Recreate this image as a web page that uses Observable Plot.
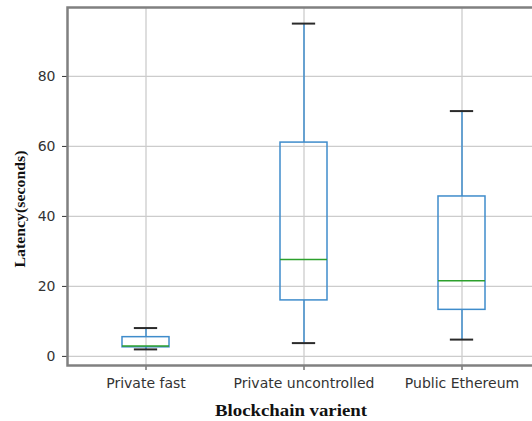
<!DOCTYPE html>
<html>
<head>
<meta charset="utf-8">
<script src="https://cdn.jsdelivr.net/npm/d3@7"></script>
<script src="https://cdn.jsdelivr.net/npm/@observablehq/plot@0.6"></script>
<style>
html, body { margin: 0; padding: 0; background: #fff; overflow: hidden; }
#chart { width: 532px; height: 421px; overflow: hidden; }
</style>
</head>
<body>
<div id="chart"></div>
<script>
// Box-plot summary values (seconds)
const categories = ["Private fast", "Private uncontrolled", "Public Ethereum"];
const whiskerLow  = [2.0, 3.8, 4.8];
const q1Values    = [2.6, 16.0, 13.3];
const medians     = [3.0, 27.7, 21.6];
const q3Values    = [5.5, 61.1, 45.7];
const whiskerHigh = [8.1, 95.1, 70.1];
const yTicks = [0, 20, 40, 60, 80];
const xTitle = "Blockchain varient";
const yTitle = "Latency(seconds)";

const data = categories.map((cat, i) => ({
  cat, lo: whiskerLow[i], q1: q1Values[i], med: medians[i], q3: q3Values[i], hi: whiskerHigh[i]
}));

const BLUE = "#3f8ccb";
const GREEN = "#2ca02c";
const CAP = "#2a2a2a";
const GRID = "#cccccc";
const FONT = "DejaVu Sans, sans-serif";
const BAND_PAD = 0.7;
const capInset = (474 / 3) * (1 - BAND_PAD) / 4;

const svg = Plot.plot({
  width: 545,
  height: 421,
  marginLeft: 67,
  marginRight: 4,
  marginTop: 7,
  marginBottom: 56,
  style: { maxWidth: "none", background: "#fff", color: "#333", fontFamily: FONT, fontSize: "14px", overflow: "hidden" },
  x: { type: "band", domain: categories, range: [67, 541], paddingInner: BAND_PAD, paddingOuter: BAND_PAD / 2, label: null },
  y: { domain: [-2.6, 99.7], label: null },
  marks: [
    Plot.gridY(yTicks, { stroke: GRID, strokeOpacity: 1, strokeWidth: 1.3 }),
    Plot.gridX(categories, { stroke: GRID, strokeOpacity: 1, strokeWidth: 1.3 }),
    Plot.ruleX(data, { x: "cat", y1: "q3", y2: "hi", stroke: BLUE, strokeWidth: 1.5 }),
    Plot.ruleX(data, { x: "cat", y1: "lo", y2: "q1", stroke: BLUE, strokeWidth: 1.5 }),
    Plot.barY(data, { x: "cat", y1: "q1", y2: "q3", fill: "none", stroke: BLUE, strokeWidth: 1.5 }),
    Plot.tickY(data, { x: "cat", y: "hi", stroke: CAP, strokeWidth: 2, insetLeft: capInset, insetRight: capInset }),
    Plot.tickY(data, { x: "cat", y: "lo", stroke: CAP, strokeWidth: 2, insetLeft: capInset, insetRight: capInset }),
    Plot.tickY(data, { x: "cat", y: "med", stroke: GREEN, strokeWidth: 1.5 }),
    Plot.axisY({ ticks: yTicks, tickSize: 5, tickPadding: 7, label: null, fontSize: 14 }),
    Plot.axisX({ tickSize: 5, tickPadding: 8, label: null, fontSize: 14 }),
    Plot.frame({ stroke: "#808080", strokeWidth: 2.5 })
  ]
});

const s = d3.select(svg);
s.append("text")
  .attr("x", 291).attr("y", 416)
  .attr("text-anchor", "middle")
  .attr("font-family", "Liberation Serif, Times New Roman, serif")
  .attr("font-weight", "bold")
  .attr("font-size", 17)
  .attr("fill", "#111")
  .attr("textLength", 152)
  .attr("lengthAdjust", "spacingAndGlyphs")
  .text(xTitle);
s.append("text")
  .attr("transform", "translate(25,209) rotate(-90)")
  .attr("text-anchor", "middle")
  .attr("font-family", "Liberation Serif, Times New Roman, serif")
  .attr("font-weight", "bold")
  .attr("font-size", 15.5)
  .attr("fill", "#111")
  .attr("textLength", 117)
  .attr("lengthAdjust", "spacingAndGlyphs")
  .text(yTitle);

document.getElementById("chart").appendChild(svg);
</script>
</body>
</html>
